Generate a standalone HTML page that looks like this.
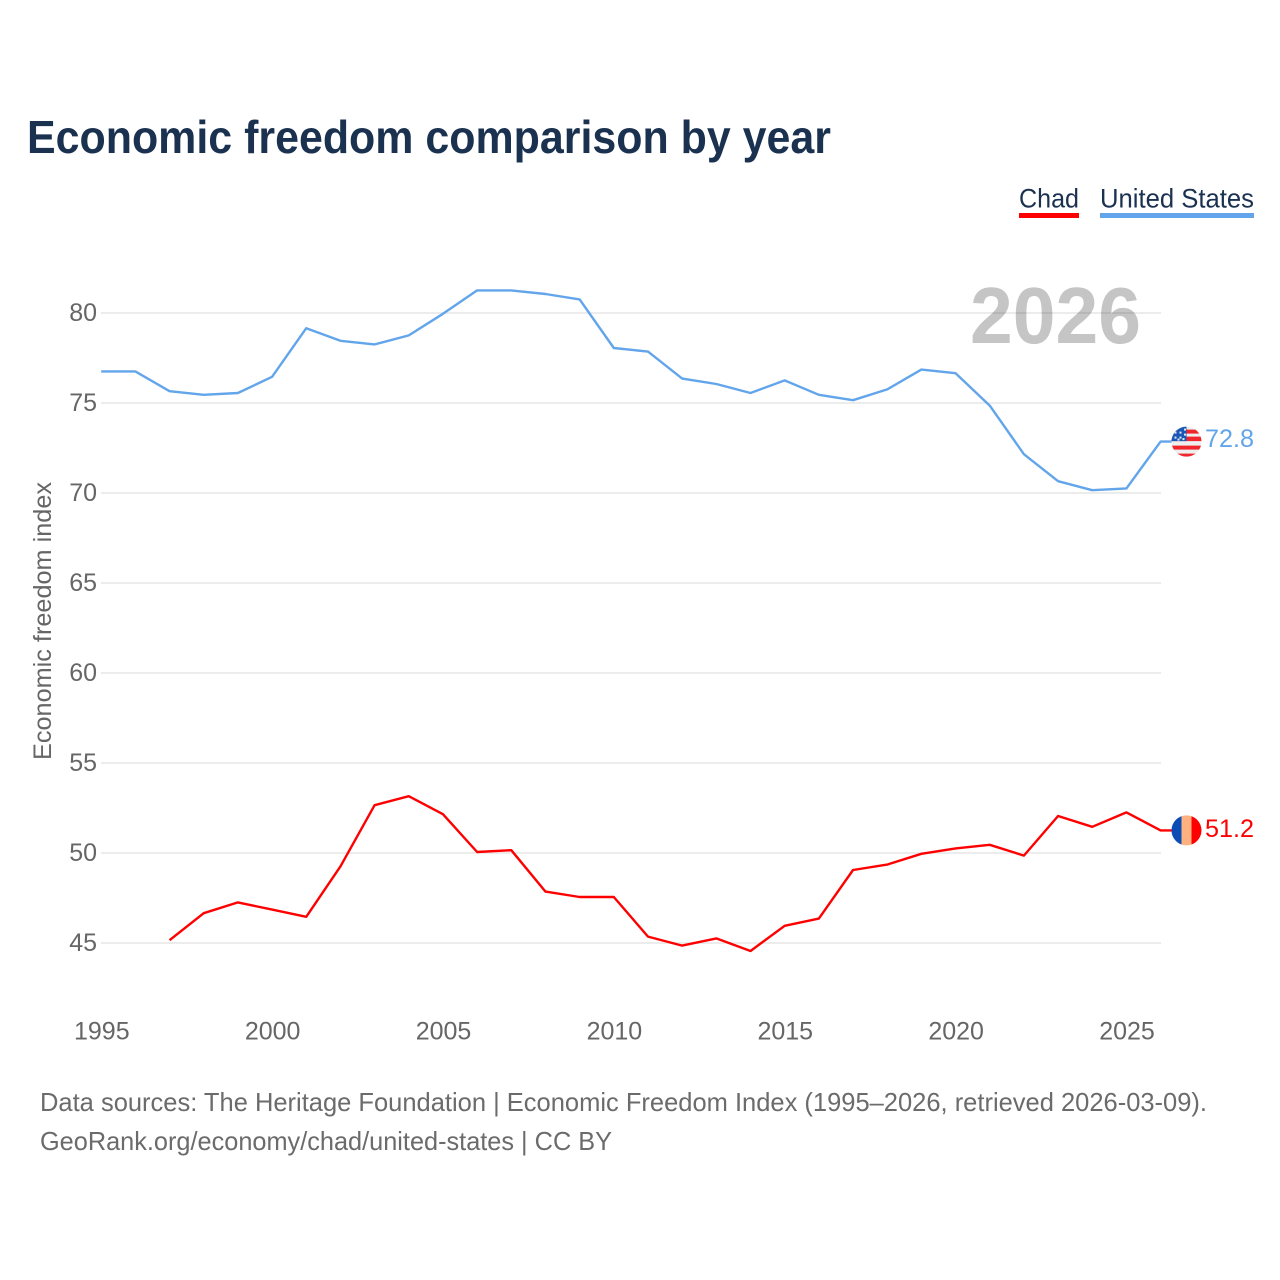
<!DOCTYPE html>
<html lang="en">
<head>
<meta charset="utf-8">
<title>Economic freedom comparison by year</title>
<style>
  html, body { margin: 0; padding: 0; background: #fff; }
  #chart { display: block; width: 1280px; height: 1280px; font-family: "Liberation Sans", sans-serif; }
</style>
</head>
<body>
<svg id="chart" xmlns="http://www.w3.org/2000/svg" width="1280" height="1280" viewBox="0 0 1280 1280">
  <rect x="0" y="0" width="1280" height="1280" fill="#ffffff"/>
  <text x="27" y="153" font-size="46" font-weight="700" fill="#1a3150" textLength="804" lengthAdjust="spacingAndGlyphs">Economic freedom comparison by year</text>

  <g>
    <text x="1019" y="207.5" font-size="27" fill="#1a3150" textLength="60" lengthAdjust="spacingAndGlyphs">Chad</text>
    <rect x="1019" y="213" width="60" height="5" fill="#ff0000"/>
  </g>
  <g>
    <text x="1100" y="207.5" font-size="27" fill="#1a3150" textLength="154" lengthAdjust="spacingAndGlyphs">United States</text>
    <rect x="1100" y="213" width="154" height="5" fill="#62a5ea"/>
  </g>

  <text id="year-watermark" x="970" y="343" font-size="80" font-weight="700" fill="#c4c5c4" textLength="171" lengthAdjust="spacingAndGlyphs"></text>
  <g id="grid"></g>
  <g id="y-ticks"></g>
  <g id="x-ticks"></g>
  <text transform="translate(51,760) rotate(-90)" x="0" y="0" font-size="25" fill="#666666" textLength="278" lengthAdjust="spacingAndGlyphs">Economic freedom index</text>

  <polyline id="line-us" fill="none" stroke="#62a5ea" stroke-width="2.4" stroke-linejoin="round"/>
  <polyline id="line-chad" fill="none" stroke="#ff0000" stroke-width="2.4" stroke-linejoin="round"/>

  <defs>
    <clipPath id="flag-us-clip"><circle id="flag-us-circle" cx="1186.5" cy="0" r="15"/></clipPath>
    <clipPath id="flag-chad-clip"><circle id="flag-chad-circle" cx="1186.5" cy="0" r="15"/></clipPath>
  </defs>
  <g id="flag-us" clip-path="url(#flag-us-clip)"></g>
  <g id="flag-chad" clip-path="url(#flag-chad-clip)"></g>
  <text id="value-us" x="1205" font-size="25" fill="#62a5ea" textLength="49" lengthAdjust="spacingAndGlyphs"></text>
  <text id="value-chad" x="1205" font-size="25" fill="#ff0000" textLength="49" lengthAdjust="spacingAndGlyphs"></text>

  <text x="40" y="1111" font-size="26" fill="#6b6b6b" textLength="1167" lengthAdjust="spacingAndGlyphs">Data sources: The Heritage Foundation | Economic Freedom Index (1995–2026, retrieved 2026-03-09).</text>
  <text x="40" y="1150" font-size="26" fill="#6b6b6b" textLength="572" lengthAdjust="spacingAndGlyphs">GeoRank.org/economy/chad/united-states | CC BY</text>
</svg>
<script>
const years = [1995,1996,1997,1998,1999,2000,2001,2002,2003,2004,2005,2006,2007,2008,2009,2010,2011,2012,2013,2014,2015,2016,2017,2018,2019,2020,2021,2022,2023,2024,2025,2026];
const usValues = [76.7,76.7,75.6,75.4,75.5,76.4,79.1,78.4,78.2,78.7,79.9,81.2,81.2,81.0,80.7,78.0,77.8,76.3,76.0,75.5,76.2,75.4,75.1,75.7,76.8,76.6,74.8,72.1,70.6,70.1,70.2,72.8];
const chadValues = [null,null,45.1,46.6,47.2,46.8,46.4,49.2,52.6,53.1,52.1,50.0,50.1,47.8,47.5,47.5,45.3,44.8,45.2,44.5,45.9,46.3,49.0,49.3,49.9,50.2,50.4,49.8,52.0,51.4,52.2,51.2];
const yTicks = [45,50,55,60,65,70,75,80];
const xTicks = [1995,2000,2005,2010,2015,2020,2025];

const SVGNS = 'http://www.w3.org/2000/svg';
const xScale = function (yr) { return 101.2 + (yr - 1995) * (1160.6 - 101.2) / 31; };
const yScale = function (v) { return 312 + (80 - v) * 18; };

function make(parent, tag, props) {
  const el = document.createElementNS(SVGNS, tag);
  for (const k in props) el.setAttribute(k, props[k]);
  parent.appendChild(el);
  return el;
}

const grid = document.getElementById('grid');
const yTickGroup = document.getElementById('y-ticks');
yTicks.forEach(function (t) {
  const gl = make(grid, 'line', { x1: 101, x2: 1161, y1: yScale(t) + 1, y2: yScale(t) + 1, stroke: 'rgba(0,0,0,0.075)', 'stroke-width': 2 });
  
  
  const lb = make(yTickGroup, 'text', { x: 97, y: yScale(t) + 9, 'font-size': 25, fill: '#666666', 'text-anchor': 'end' });
  
  
  lb.textContent = t;
});

const xTickGroup = document.getElementById('x-ticks');
xTicks.forEach(function (t) {
  const lb = make(xTickGroup, 'text', { x: xScale(t) + 0.6, y: 1039.5, 'font-size': 25, fill: '#666666', 'text-anchor': 'middle' });
  
  
  lb.textContent = t;
});

/* line runs through the yearly points, then a short flat connector to the end-of-line flag */
function points(values) {
  const out = [];
  let last = null;
  values.forEach(function (v, i) {
    if (v !== null) {
      out.push(xScale(years[i]).toFixed(2) + ',' + yScale(v).toFixed(2));
      last = v;
    }
  });
  out.push((xScale(years[years.length - 1]) + 11).toFixed(2) + ',' + yScale(last).toFixed(2));
  return out.join(' ');
}
document.getElementById('line-us').setAttribute('points', points(usValues));
document.getElementById('line-chad').setAttribute('points', points(chadValues));

const lastYear = years[years.length - 1];
const lastUs = usValues[usValues.length - 1];
const lastChad = chadValues[chadValues.length - 1];
document.getElementById('year-watermark').textContent = lastYear;

const usCy = yScale(lastUs);
const chadCy = yScale(lastChad);
document.getElementById('flag-us-circle').setAttribute('cy', usCy);
document.getElementById('flag-chad-circle').setAttribute('cy', chadCy);

const valUs = document.getElementById('value-us');
valUs.setAttribute('y', usCy + 5.5);
valUs.textContent = lastUs.toFixed(1);
const valChad = document.getElementById('value-chad');
valChad.setAttribute('y', chadCy + 6.5);
valChad.textContent = lastChad.toFixed(1);

const fu = document.getElementById('flag-us');
make(fu, 'rect', { x: 1171, y: usCy - 16, width: 31, height: 32, fill: '#eeeeee' });
[[-12, 4], [-5, 4.5], [4, 4], [12, 4]].forEach(function (s) {
  make(fu, 'rect', { x: 1171, y: usCy + s[0], width: 31, height: s[1], fill: '#f0262c' });
});
make(fu, 'rect', { x: 1171, y: usCy - 16, width: 15.5, height: 15.5, fill: '#1b57b5' });
[[-11, -10], [-6, -10], [-1.5, -13], [-11, -5], [-6, -5], [-1.5, -8], [-3, -3.5], [-8, -3]].forEach(function (p) {
  make(fu, 'rect', { x: 1186.5 + p[0] - 1, y: usCy + p[1], width: 2, height: 2, fill: '#dfe8f5' });
});

const fc = document.getElementById('flag-chad');
make(fc, 'rect', { x: 1171, y: chadCy - 16, width: 10.5, height: 32, fill: '#0b4db5' });
make(fc, 'rect', { x: 1181.5, y: chadCy - 16, width: 10, height: 32, fill: '#ffb27f' });
make(fc, 'rect', { x: 1191.5, y: chadCy - 16, width: 11, height: 32, fill: '#ff0000' });
</script>
</body>
</html>
